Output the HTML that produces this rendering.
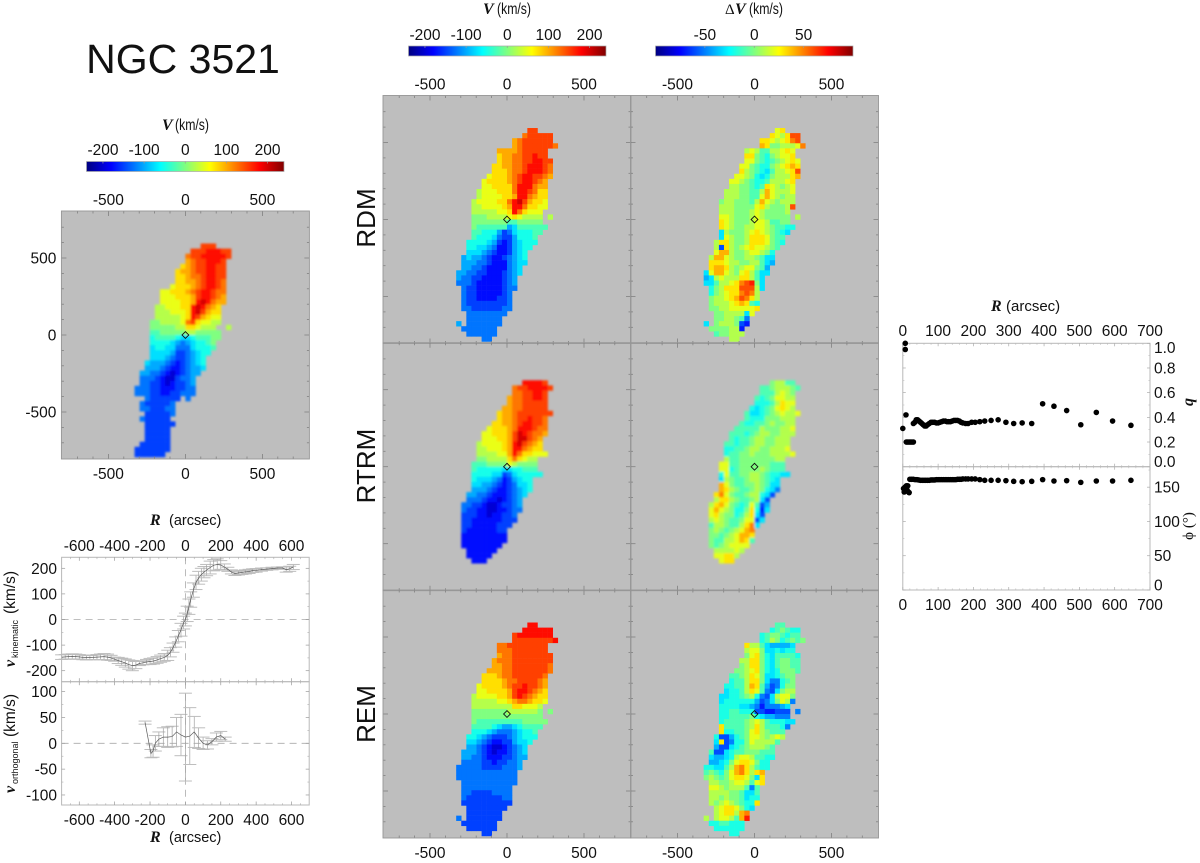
<!DOCTYPE html>
<html lang="en">
<head>
<meta charset="utf-8">
<title>NGC 3521 kinematics</title>
<style>
html,body{margin:0;padding:0;background:#fff;}
svg{display:block;}
text{font-family:"Liberation Sans",sans-serif;fill:#111;}
.num{font-size:15.5px;}
.ser{font-family:"Liberation Serif",serif;font-weight:bold;font-style:italic;}
</style>
</head>
<body>
<svg id="fig" xmlns="http://www.w3.org/2000/svg" width="1200" height="863" viewBox="0 0 1200 863">
<defs>
<filter id="soft" x="-10%" y="-10%" width="120%" height="120%"><feGaussianBlur stdDeviation="1.1"/></filter>
<linearGradient id="jet">
<stop offset="0" stop-color="#000080"/><stop offset="0.125" stop-color="#0000ff"/><stop offset="0.375" stop-color="#00ffff"/><stop offset="0.625" stop-color="#ffff00"/><stop offset="0.875" stop-color="#ff0000"/><stop offset="1" stop-color="#800000"/>
</linearGradient>
</defs>
<text x="183" y="73" text-anchor="middle" style="font-size:41px">NGC 3521</text>
<text transform="translate(375,218) rotate(-90)" text-anchor="middle" style="font-size:26px">RDM</text>
<text transform="translate(375,466) rotate(-90)" text-anchor="middle" style="font-size:26px">RTRM</text>
<text transform="translate(375,714) rotate(-90)" text-anchor="middle" style="font-size:26px">REM</text>

<g><text class="ser" x="162" y="130" style="font-size:16px">V</text><text x="175" y="130" textLength="34" lengthAdjust="spacingAndGlyphs" style="font-size:16px">(km/s)</text></g>
<g><text class="ser" x="483" y="14" style="font-size:16px">V</text><text x="497" y="14" textLength="34" lengthAdjust="spacingAndGlyphs" style="font-size:16px">(km/s)</text></g>
<g><text x="725" y="14" style="font-family:'Liberation Serif',serif;font-size:15px">Δ</text><text class="ser" x="735" y="14" style="font-size:16px">V</text><text x="749" y="14" textLength="34" lengthAdjust="spacingAndGlyphs" style="font-size:16px">(km/s)</text></g>

<g><text class="ser" x="150" y="525" style="font-size:16px">R</text><text x="169" y="525" style="font-size:14.5px">(arcsec)</text></g>
<g><text class="ser" x="150" y="842" style="font-size:16px">R</text><text x="169" y="842" style="font-size:14.5px">(arcsec)</text></g>
<g transform="translate(15,667) rotate(-90)"><text class="ser" x="0" y="0" style="font-size:16px">v</text><text x="9" y="3" style="font-size:9px">kinematic</text><text x="53" y="0" style="font-size:15.5px">(km/s)</text></g>
<g transform="translate(15,793) rotate(-90)"><text class="ser" x="0" y="0" style="font-size:16px">v</text><text x="9" y="3" style="font-size:9px">orthogonal</text><text x="56" y="0" style="font-size:15.5px">(km/s)</text></g>
<g><text class="ser" x="991" y="311" style="font-size:16px">R</text><text x="1006" y="311" style="font-size:15px">(arcsec)</text></g>
<text class="ser" transform="translate(1193,402) rotate(-90)" text-anchor="middle" style="font-size:16px">q</text>
<text transform="translate(1193,526) rotate(-90)" text-anchor="middle" style="font-size:15px;font-family:'Liberation Serif','DejaVu Serif',serif">ϕ (°)</text>
</svg>

<script>
const panelTicks = [-500, 0, 500];
const minorTicks = [-700, -600, -400, -300, -200, -100, 100, 200, 300, 400, 600, 700];
const velocityBarTicks = [-200, -100, 0, 100, 200];
const residualBarTicks = [-50, 0, 50];
const curveXTicks = [-600, -400, -200, 0, 200, 400, 600];
const curveXMinor = [-650, -550, -500, -450, -350, -300, -250, -150, -100, -50, 50, 100, 150, 250, 300, 350, 450, 500, 550, 650];
const kinematicTicks = [-200, -100, 0, 100, 200];
const kinematicMinor = [-150, -50, 50, 150];
const orthogonalTicks = [-100, -50, 0, 50, 100];
const orthogonalMinor = [-75, -25, 25, 75];
const ellipseXTicks = [0, 100, 200, 300, 400, 500, 600, 700];
const ellipseXMinor = [20, 40, 60, 80, 120, 140, 160, 180, 220, 240, 260, 280, 320, 340, 360, 380, 420, 440, 460, 480, 520, 540, 560, 580, 620, 640, 660, 680];
const qTicks = [0, 0.2, 0.4, 0.6, 0.8, 1];
const qTickLabels = ['0.0', '0.2', '0.4', '0.6', '0.8', '1.0'];
const qMinor = [0.1, 0.3, 0.5, 0.7, 0.9];
const phiTicks = [0, 50, 100, 150];
const phiMinor = [25, 75, 125, 175];

const velocityUnit = 25;
const velocityMax = 240;
const residualUnit = 10;
const residualMax = 100;
const cellArcsec = 33;
const _ = null;

/* map rows run top to bottom; each row = [first column, cell levels...] */
const observedV = [
[3,6,6,6],[1,6,6,6,7,7,7,6,6],[0,5,6,6,7,7,7,7,7,6],[0,4,5,6,6,7,7,7,6],[-1,3,4,5,6,6,7,7,6,6],
[-2,3,4,4,5,6,6,7,7,6,6],[-2,3,3,4,5,5,6,7,7,6,6],[-2,3,3,4,4,5,6,7,7,6,5],[-3,2,3,3,3,4,5,6,7,7,6,5],
[-5,2,2,3,3,3,4,5,6,7,7,6,5,5],[-5,2,2,2,3,3,3,4,6,7,7,6,5,4],[-5,2,2,2,2,3,3,4,7,8,7,5,4,4],
[-6,1,1,2,2,2,3,3,7,8,7,5,4,3],[-6,1,1,1,2,2,2,3,7,8,6,4,3,3],[-6,1,1,1,1,1,2,3,7,6,4,3,2,2],
[-7,0,0,1,1,1,1,2,5,6,3,2,2,1,1],[-7,0,0,0,0,0,1,1,3,3,2,1,1,1,_,_,1],[-7,-1,-1,0,0,0,0,0,1,1,0,0,0,0,0],
[-7,-2,-1,-1,-1,-1,-2,-3,-3,-2,-1,-1,-1,0,0],[-7,-2,-2,-2,-2,-3,-4,-5,-4,-3,-2,-2,-1,0],
[-7,-3,-2,-2,-3,-3,-5,-5,-5,-3,-2,-2,-2,-1],[-7,-3,-3,-3,-3,-4,-6,-6,-5,-4,-3,-2,-2],
[-7,-3,-3,-3,-4,-5,-6,-6,-5,-4,-3,-2],[-8,-3,-4,-4,-4,-5,-6,-7,-6,-5,-4,-3,-2],
[-8,-4,-4,-4,-5,-6,-7,-7,-6,-5,-4,-4,-3],[-9,-4,-4,-5,-5,-6,-7,-8,-7,-6,-5,-4,-4],
[-9,-5,-5,-5,-6,-7,-8,-8,-6,-5,-5,-4],[-9,-5,-5,-6,-6,-7,-8,-7,-6,-6,-5,-4],
[-10,-5,-5,-5,-6,-6,-7,-7,-7,-6,-6,-5,-5],[-10,-5,-5,-5,-6,-6,-7,-7,-6,-6,-5,-5,-5],
[-8,-5,-6,-6,-6,-6,-6,-6,_,-5],[-9,-5,-6,-6,-6,-6,-6,-5],[-9,-5,-5,-6,-6,-6,-5,-5],[-8,-6,-6,-6,-6,-6,-5],
[-9,-5,-6,-6,-6,-6,-6],[-8,-6,-6,-6,-6,-6,-6],[-8,-6,-6,-6,-6,-6],[-8,-6,-6,-6,-6,-6],[-8,-6,-6,-6,-6,-6],
[-9,-6,-6,-6,-6,-6,-6],[-10,-6,-6,-6,-6,-6,-6,-6],[-10,-6,-6,-6,-6,-6,-6]
];

const rdmV = [
[4,6,6],[3,5,6,6,6,6,6],[1,4,5,6,6,6,6,6,6],[1,4,5,6,6,6,6,6,6,5],[-2,4,4,4,4,5,6,6,6,6,6],
[-2,3,4,4,5,5,6,6,7,6,6],[-2,3,4,4,5,5,6,6,7,7,6,6],[-3,3,3,4,4,5,5,6,7,7,7,6,5],[-3,3,3,3,4,5,5,6,7,7,7,6,5],
[-4,2,3,3,3,4,5,6,7,7,6,6,5,4],[-5,2,3,3,3,3,4,5,6,7,7,6,5,4],[-5,2,2,3,3,3,3,5,7,7,7,5,4,4],
[-6,1,2,2,2,3,3,3,5,7,7,6,5,3,3],[-6,1,2,2,2,2,3,3,4,7,7,5,4,3,3],[-7,1,2,2,2,2,3,3,5,7,8,6,4,3,3,2],
[-7,1,1,2,2,2,2,3,4,7,7,5,3,3,2,2],[-7,1,1,1,1,1,2,2,3,7,5,3,2,2,2],[-7,0,0,0,1,1,1,1,2,3,2,1,1,1,1,_,1],
[-7,0,0,0,0,0,0,0,-1,-1,0,0,0,0,0],[-7,0,-1,-1,-1,-1,-1,-1,-4,-3,-1,-1,-1,-1,-1,-1],
[-7,-1,-1,-2,-2,-2,-4,-6,-5,-3,-2,-2,-2,-1,-1],[-7,-1,-2,-2,-2,-3,-5,-6,-6,-4,-2,-2,-2,-1],
[-8,-2,-2,-2,-2,-3,-4,-6,-7,-6,-4,-3,-2,-2,-2],[-8,-2,-2,-3,-3,-4,-5,-7,-7,-6,-4,-3,-2,-2],
[-8,-3,-3,-3,-4,-5,-6,-7,-7,-6,-4,-3,-2],[-9,-4,-3,-4,-4,-5,-6,-7,-7,-6,-5,-4,-3,-2],
[-9,-4,-4,-4,-5,-5,-6,-7,-7,-7,-5,-4,-3,-3],[-9,-4,-4,-5,-5,-6,-7,-7,-7,-7,-5,-4,-3],
[-10,-4,-4,-5,-5,-6,-6,-7,-7,-7,-6,-5,-4,-3],[-10,-4,-5,-5,-6,-6,-7,-7,-7,-7,-6,-5,-4],
[-10,-5,-5,-5,-6,-7,-7,-7,-7,-7,-6,-5,-4],[-9,-5,-6,-6,-7,-7,-7,-7,-7,-6,-5,-5],
[-9,-5,-6,-6,-7,-7,-7,-7,-7,-6,-5],[-9,-5,-6,-6,-7,-7,-7,-7,-6,-6,-5],[-9,-5,-6,-6,-6,-6,-6,-6,-6,-6,-5],
[-9,-5,-5,-6,-6,-6,-6,-6,-6,-5,-5],[-8,-5,-5,-5,-5,-5,-5,-5,-5],[-8,-5,-5,-5,-5,-5,-5,-5],
[-10,-4,_,-5,-5,-5,-5,-5,-5,-5],[-9,-5,-5,-5,-5,-5,-5,-5],[-8,-5,-5,-5,-5,-5,-5],[-5,-5,-5]
];

const rdmDV = [
[4,2,3],[3,3,2,1,3,6,6],[1,3,3,2,1,2,3,5,6],[1,4,3,0,0,1,1,1,2,5],[-2,1,2,1,-1,-1,1,1,2,3,2],
[-2,3,3,0,-1,-2,0,1,2,2,3],[-2,2,2,0,-1,-2,-1,0,1,2,3,2],[-3,2,2,0,-1,-2,-2,0,1,2,3,4,3],[-3,3,1,0,-1,-2,-3,-1,1,1,2,3,6],
[-4,2,2,1,0,-2,-3,-2,0,1,1,1,3,4],[-5,2,2,1,0,-1,-2,-2,-1,1,1,1,2,3],[-5,1,1,0,0,-1,-2,-1,3,2,1,0,1,2],
[-6,1,1,1,0,0,-1,-1,1,4,2,1,1,1,2],[-6,1,1,1,0,0,-1,-1,2,4,2,1,0,1,1],[-7,0,1,1,0,0,0,-1,1,4,2,1,0,1,1,1],
[-7,1,1,1,0,0,0,0,2,3,1,0,0,0,1,6],[-7,1,1,1,0,0,0,1,2,1,0,0,0,0,1],[-7,2,2,1,0,0,0,1,2,1,0,0,0,0,0,_,1],
[-7,3,2,1,0,0,0,1,2,2,1,-1,-1,0,0],[-7,3,2,1,0,0,1,1,2,2,1,0,-1,-1,-2,-2],
[-7,-3,1,0,0,0,1,2,3,2,1,0,-1,-2,-3],[-7,-3,2,1,0,0,1,3,3,3,2,0,-1,-1],
[-8,1,3,3,1,0,0,1,3,3,3,2,0,-1,-2],[-8,1,-6,3,1,0,1,2,3,2,2,1,0,-1],
[-8,2,4,4,1,0,0,1,2,2,1,0,-2],[-9,1,4,4,2,1,0,0,1,1,0,-1,-3,-3],
[-9,3,3,3,2,1,1,0,0,1,1,-1,-3,-4],[-9,3,4,4,3,1,0,1,2,2,0,-1,-4],
[-10,-3,2,4,4,2,1,0,2,3,1,-1,-3,-3],[-10,-4,-3,1,2,1,1,1,3,3,1,-1,-3],
[-10,-3,-3,-1,1,1,2,3,5,6,7,0,-3],[-9,-2,0,1,3,3,3,6,6,6,1,-3],
[-9,-2,0,1,2,3,3,5,6,5,1],[-9,0,1,1,2,3,4,6,5,3,1],[-9,0,1,1,1,2,3,4,3,-1,-2],
[-9,0,0,1,1,2,2,2,2,2,3],[-8,0,0,1,1,1,1,-3,2],[-8,0,0,1,1,0,-1,-5],
[-10,-3,_,0,1,1,1,0,-6,-7],[-9,0,0,0,0,1,1,-7],[-8,-1,0,0,1,1,1],[-5,1,1]
];

const rtrmV = [
[3,7,7,7,7,6],[1,5,6,6,7,7,7,7,6],[1,5,5,6,6,7,7,6],[0,4,5,5,6,6,7,7,6],[0,4,5,5,6,6,6,6,6],
[-1,4,4,5,5,6,6,6,6,6],[-2,3,4,4,5,6,6,6,6,6,6,6],[-2,3,4,4,5,6,6,7,6,6,5],[-3,3,3,4,4,5,6,7,7,6,6,5],
[-4,2,3,3,3,4,5,7,7,7,6,5,5],[-5,2,2,3,3,3,4,6,8,7,6,5,5,4],[-5,2,2,2,3,3,4,6,8,8,6,5,4],
[-6,1,2,2,2,2,3,4,7,8,6,5,4,3],[-6,1,1,2,2,2,3,4,7,7,5,4,3,3],[-6,1,1,1,1,2,2,4,7,5,3,3,2,2,2],
[-6,0,0,1,1,1,1,3,5,3,2,1,1],[-7,-1,-1,-1,0,0,0,0,2,1,0,0,0,0],[-7,-1,-2,-2,-2,-2,-2,-3,-3,-2,-2,-1,-1,-1],
[-7,-2,-2,-2,-2,-3,-3,-6,-5,-3,-2,-2,-2,-2,-2],[-7,-2,-3,-3,-3,-4,-5,-7,-6,-4,-3,-2,-2],
[-7,-3,-3,-4,-4,-5,-6,-7,-6,-5,-3,-3,-2],[-7,-4,-4,-4,-5,-6,-7,-7,-6,-5,-4,-3,-2],
[-8,-4,-4,-5,-5,-6,-7,-7,-7,-6,-5,-4,-3],[-8,-5,-5,-5,-6,-7,-7,-8,-7,-6,-5,-4],
[-9,-5,-5,-6,-6,-7,-8,-8,-7,-6,-6,-5,-4],[-9,-5,-6,-6,-7,-7,-8,-8,-7,-7,-6,-5,-5],
[-9,-6,-6,-6,-7,-7,-8,-7,-7,-6,-6,-5],[-9,-6,-6,-7,-7,-7,-7,-7,-7,-6,-6,-6],
[-9,-6,-6,-7,-7,-7,-7,-7,-6,-6,-6],[-9,-6,-7,-7,-7,-7,-7,-7,-6,-6],
[-9,-7,-7,-7,-7,-7,-7,-7,-7,-7],[-9,-7,-7,-7,-7,-7,-7,-7,-7,-7],[-9,-7,-7,-7,-7,-7,-7,-7,-7],
[-8,-7,-7,-7,-7,-7,-7],[-8,-7,-7,-7,-7,-7],[-7,-7,-7,-7]
];

const rtrmDV = [
[3,0,1,1,-1,-1],[1,-1,-1,0,1,1,1,0,-1],[1,-1,-1,-1,1,2,1,0],[0,-1,-2,-1,0,2,2,1,1],[0,-2,-2,-2,-1,1,3,2,2],
[-1,-2,-3,-2,-1,0,2,3,2,1],[-2,-1,-3,-3,-2,-1,0,1,2,1,1,2],[-2,-1,-2,-2,-2,0,0,0,1,1,1],[-3,-1,-2,-2,-1,-1,0,1,0,0,1,1],
[-4,-1,-1,-1,-1,-1,1,0,0,0,1,1,2],[-5,-1,-1,-1,-2,-1,0,1,1,0,0,1,1,1],[-5,-1,-2,-1,-1,0,1,1,0,0,1,1,1],
[-6,-1,-1,-2,-1,-1,0,1,1,0,0,1,1,1],[-6,-2,-2,-1,-1,0,1,1,0,0,1,1,1,2],[-6,-2,-1,-1,0,0,1,0,0,0,1,1,1,1,2],
[-6,1,-1,-1,0,0,0,0,0,0,0,1,1],[-7,2,2,-1,-1,0,0,0,0,0,0,-1,-1,-1],[-7,2,2,-2,-1,0,0,0,0,1,0,-1,-1,-1],
[-7,-2,2,-1,-1,0,0,1,1,0,-1,-2,-2,-3,-3],[-7,-3,1,0,-1,-1,0,1,1,0,-1,-2,-3],
[-7,4,2,0,-1,-1,0,0,1,0,-1,-3,-3],[-7,4,3,1,0,-1,-1,0,1,0,-2,-3,-5],
[-8,3,5,2,0,-1,-1,0,1,1,-2,-3,-6],[-8,1,3,3,1,0,-1,-1,0,1,-3,-6],
[-9,1,3,4,2,0,-1,-2,-1,2,-1,-6,-4],[-9,2,4,2,1,0,-2,-2,0,3,-2,-7,-3],
[-9,2,3,1,0,0,-2,-1,1,3,-3,-6],[-9,1,2,1,0,-1,-1,0,2,2,-6,-3],
[-9,-1,1,1,0,-1,-1,1,3,5,-3],[-9,0,1,0,-1,0,1,2,4,5],[-9,0,0,-1,0,1,2,4,4,3],[-9,0,-1,-1,1,1,2,4,3,-1],
[-9,0,-1,0,1,2,2,2,2],[-8,1,1,1,1,2,1],[-8,2,2,3,3,1],[-7,2,3,3]
];

const remV = [
[4,7,7],[3,7,7,7,7,7,7],[1,6,7,7,7,7,7,7,7],[1,6,6,6,6,6,6,6,6,7],[-2,5,5,6,6,6,6,6,6,6,6],
[-2,5,5,5,6,6,6,6,6,6,6],[-2,4,5,5,6,6,6,6,6,6,6,6],[-3,4,5,5,5,6,6,6,6,6,6,6,6],[-3,4,4,5,5,6,6,6,6,6,6,6,5],
[-4,4,4,4,5,5,6,6,6,6,6,6,6,5],[-5,3,3,3,4,5,5,6,6,6,6,6,6,5],[-5,3,3,3,3,4,5,5,6,6,6,6,5,4],
[-6,2,3,3,3,3,4,5,6,6,7,6,6,5,4],[-6,2,2,3,3,3,3,4,6,7,7,6,5,4,3],[-7,1,2,2,2,2,3,3,4,6,7,6,5,4,3,3],
[-7,1,1,1,1,1,2,2,3,4,5,5,4,3,3,2],[-7,1,1,1,1,1,1,1,1,3,3,2,2,2,1],[-7,0,0,0,0,0,0,0,1,1,1,1,1,1,0,_,0],
[-7,0,0,0,0,0,0,0,0,0,0,0,0,0,0],[-7,0,-1,-1,-1,-1,-1,-1,-1,-1,-1,0,0,0,0,0],
[-7,-1,-1,-1,-1,-2,-3,-4,-4,-3,-2,-1,-1,-1,-1],[-7,-2,-2,-2,-3,-4,-5,-5,-5,-4,-3,-2,-2,-1],
[-8,-2,-2,-3,-4,-5,-6,-6,-6,-5,-4,-3,-2,-2,-2],[-8,-3,-3,-4,-5,-6,-7,-7,-6,-6,-4,-3,-3,-2],
[-8,-4,-4,-5,-6,-7,-8,-8,-7,-6,-5,-4,-3],[-9,-4,-4,-4,-5,-6,-7,-8,-7,-7,-6,-5,-4,-3],
[-9,-4,-4,-5,-5,-6,-7,-7,-7,-6,-6,-5,-4,-4],[-9,-5,-5,-5,-5,-6,-6,-7,-6,-6,-5,-5,-4],
[-10,-5,-5,-5,-5,-5,-6,-6,-6,-6,-5,-5,-5,-4],[-10,-5,-5,-5,-5,-5,-5,-5,-5,-5,-5,-5,-5],
[-10,-5,-5,-5,-5,-5,-5,-5,-5,-5,-5,-5,-5],[-9,-5,-5,-5,-5,-5,-5,-5,-5,-5,-5,-5],
[-9,-5,-5,-5,-5,-5,-5,-5,-5,-5,-5],[-9,-5,-5,-6,-6,-6,-6,-5,-5,-5,-5],[-9,-5,-6,-6,-6,-6,-6,-6,-6,-5,-5],
[-9,-6,-6,-6,-6,-6,-6,-6,-6,-6,-6],[-8,-6,-6,-6,-6,-6,-6,-6,-6],[-8,-6,-6,-6,-6,-6,-6,-6],
[-10,-5,_,-6,-6,-6,-6,-6,-6,-6],[-9,-6,-6,-6,-6,-6,-6,-6],[-8,-6,-6,-6,-6,-6,-6],[-5,-6,-6]
];

const remDV = [
[4,-1,-1],[3,-2,-1,0,-1,-2,-2],[1,-2,-1,0,0,-1,-2,-1,-1],[1,-2,-1,1,0,-2,-1,0,-1,0],[-2,3,1,1,-1,-3,-4,-4,-4,-4,-3],
[-2,1,2,2,0,-3,-3,-2,-3,-2,-2],[-2,0,2,3,0,-2,-3,-1,-1,-1,-1,-2],[-3,1,1,3,3,0,-2,-3,-1,0,0,-1,-1],[-3,0,1,3,3,0,-2,-3,-1,0,0,-1,-1],
[-4,0,0,1,2,3,0,-2,-3,-2,0,0,0,-1],[-5,-1,-1,0,1,3,2,0,-3,-3,-2,-1,0,0],[-5,-2,-1,-1,1,3,3,0,-3,-5,-5,-2,-1,0],
[-6,-2,-2,-1,-1,1,4,3,-1,-4,-6,-5,-2,0,0],[-6,-3,-2,-2,-1,1,3,2,-1,-5,-6,-3,0,1,1],[-7,-3,-3,-2,-2,-1,0,1,-2,-5,-6,-3,1,2,2,0],
[-7,-3,-2,-2,-2,-2,-2,-2,-4,-6,-5,-3,0,2,1,-5],[-7,-2,-2,-2,-2,-3,-3,-4,-5,-7,-5,-5,-5,-4,-3],[-7,-2,-2,-1,-1,-2,-2,-2,-6,-6,-7,-7,-6,-6,-6,_,-5],
[-7,-2,-2,-1,-1,-1,-1,0,-2,-3,-4,-4,-5,-5,-5],[-7,-2,-1,-1,-1,-1,0,1,2,1,-1,-2,-2,-2,-3,-3],
[-7,3,-1,-1,-1,-1,0,1,3,1,-1,-1,-1,-2,-5],[-7,3,-2,-2,-1,-1,0,2,3,1,0,-1,-1,-1],
[-8,-2,-6,-6,-4,-2,-1,0,2,2,1,0,1,2,1],[-8,-3,3,-6,-5,-2,-2,0,2,1,1,1,1,-1],
[-8,-4,-6,-6,-3,-2,-1,0,1,1,1,0,-1],[-9,-1,-6,-6,-3,-2,-1,-1,0,0,0,-1,-1,-1],
[-9,-3,-4,-4,-3,-2,1,2,2,1,-1,-1,-2,-2],[-9,-4,-4,-3,-2,0,2,3,3,2,0,-2,-2],
[-10,-2,-2,-3,-3,-1,1,4,5,3,1,-1,-2,-2],[-10,-1,0,-1,-2,0,2,4,5,3,1,3,4],
[-10,0,1,0,-1,0,2,3,3,2,0,-3,3],[-9,1,1,0,0,1,2,2,1,-1,2,3],
[-9,2,2,1,0,1,1,1,-1,-5,-1],[-9,1,1,1,1,0,0,-1,-3,-3,-1],[-9,1,1,0,1,0,0,-1,-3,-2,-2],
[-9,1,0,1,2,1,0,-1,-2,-2,3],[-8,1,2,3,3,2,0,-2,-3],[-8,1,2,3,3,1,4,5],
[-10,1,_,1,2,2,1,-1,4,7],[-9,-2,-2,-1,-1,-2,-2,-2],[-8,-2,-2,-2,-2,-2,-2],[-5,-2,-2]
];

const curveRadius = [-700,-680,-660,-640,-620,-600,-580,-560,-540,-520,-500,-480,-460,-440,-420,-400,-380,-360,-340,-320,-300,-280,-260,-240,-220,-200,-180,-160,-140,-120,-100,-85,-70,-55,-40,-25,-10,0,10,20,30,45,60,75,90,105,120,140,160,180,200,220,240,260,280,300,320,340,360,380,400,430,460,490,520,550,570,590,610];
const kinematicV = [-147,-146,-145,-144,-145,-146,-148,-149,-149,-148,-147,-146,-145,-147,-150,-155,-160,-165,-170,-176,-180,-178,-172,-169,-166,-164,-162,-158,-153,-148,-140,-128,-110,-88,-65,-40,-12,0,22,50,78,115,145,163,175,185,193,203,212,215,213,205,196,186,180,182,184,186,188,191,192,195,197,199,201,201,195,198,205];
const kinematicErr = [9,9,10,10,10,9,9,9,8,9,10,11,12,12,10,8,12,14,16,18,20,14,8,8,10,12,12,13,14,15,20,18,18,20,22,25,25,25,30,30,30,28,28,25,25,22,22,25,22,22,17,12,8,8,8,8,8,8,8,7,7,6,5,5,4,5,10,10,10];
const orthRadius = [-228,-195,-183,-170,-150,-125,-100,-75,-50,-25,0,25,50,75,100,125,150,175,200,225];
const orthV = [40,-20,-15,0,8,12,12,13,22,16,12,14,22,10,0,-3,3,12,15,8];
const orthErr = [3,8,12,15,14,18,20,20,28,40,85,55,30,20,12,8,6,8,8,4];

const qRadius = [0,7,7,9,10,14,18,22,26,30,30,34,38,42,46,50,54,58,62,66,70,75,80,85,90,95,100,105,110,115,120,125,130,135,140,145,150,155,160,165,170,178,185,195,205,218,232,250,270,292,314,338,365,396,428,464,504,548,594,646];
const qValues = [0.31,1,0.95,0.42,0.2,0.2,0.2,0.2,0.2,0.2,0.35,0.36,0.38,0.38,0.37,0.36,0.35,0.34,0.33,0.33,0.34,0.35,0.36,0.36,0.36,0.355,0.355,0.36,0.365,0.37,0.37,0.365,0.365,0.365,0.37,0.375,0.375,0.375,0.37,0.36,0.355,0.35,0.35,0.36,0.36,0.365,0.37,0.375,0.38,0.36,0.35,0.355,0.35,0.51,0.49,0.455,0.34,0.44,0.37,0.335];
const phiRadius = [2,4,6,8,10,12,14,16,18,20,25,30,35,40,45,50,55,60,65,70,75,80,85,90,95,100,105,110,115,120,125,130,135,140,145,150,155,160,165,170,178,185,195,205,218,232,250,270,292,314,338,365,396,428,464,504,548,594,646];
const phiValues = [148,143,150,145,152,146,152,143,142,161.5,161.5,161.5,161,161,160.5,160,160,160,160,160,160,160.5,160.5,160.5,161,161,161,161,161,161,161,161,161,161,161,161,161.5,161.5,161.5,162,162,162,162,162,161,160,160,160,159.5,158.5,158,158.5,161,159,159.5,157,159,159,160];

const NS = 'http://www.w3.org/2000/svg';
const fig = document.getElementById('fig');
const pxPerArcsec = 0.154;
const gridColor = '#808080';
const frameColor = '#969696';

function mk(parent, tag, name, interact) {
  const el = document.createElementNS(NS, tag);
  
  
  parent.appendChild(el);
  return el;
}
function line(parent, name, x1, y1, x2, y2, stroke, w, dash) {
  const el = mk(parent, 'line', name, 'false');
  el.setAttribute('x1', x1); el.setAttribute('y1', y1);
  el.setAttribute('x2', x2); el.setAttribute('y2', y2);
  el.setAttribute('stroke', stroke); el.setAttribute('stroke-width', w);
  if (dash) el.setAttribute('stroke-dasharray', dash);
  return el;
}
function label(parent, name, x, y, str, anchor) {
  const el = mk(parent, 'text', name, 'false');
  el.setAttribute('x', x); el.setAttribute('y', y);
  el.setAttribute('text-anchor', anchor);
  el.setAttribute('class', 'num');
  el.textContent = str;
  return el;
}
function jet(t) {
  t = Math.max(0, Math.min(1, t));
  const c = v => Math.round(255 * Math.max(0, Math.min(1, v)));
  return 'rgb(' + c(1.5 - Math.abs(4 * t - 3)) + ',' + c(1.5 - Math.abs(4 * t - 2)) + ',' + c(1.5 - Math.abs(4 * t - 1)) + ')';
}

function drawPanel(name, cx, cy) {
  const half = 800 * pxPerArcsec + 0.8;
  const g = mk(fig, 'g', name + '-panel', 'false');
  const bg = mk(g, 'rect', name + '-background', 'false');
  bg.setAttribute('x', cx - half); bg.setAttribute('y', cy - half);
  bg.setAttribute('width', 2 * half); bg.setAttribute('height', 2 * half);
  bg.setAttribute('fill', '#bebebe');
  return g;
}
function drawMap(g, name, rows, topRow, unit, max, cx, cy, smooth) {
  const cell = cellArcsec * pxPerArcsec;
  const layer = mk(g, 'g', name + '-cells', 'false');
  if (smooth) layer.setAttribute('filter', 'url(#soft)');
  rows.forEach((row, r) => {
    for (let i = 1; i < row.length; i++) {
      if (row[i] === null) continue;
      const col = row[0] + i - 1;
      const rect = mk(layer, 'rect', name + '-cell', 'false');
      rect.setAttribute('x', (cx + col * cell).toFixed(2));
      rect.setAttribute('y', (cy - (topRow - r + 1) * cell).toFixed(2));
      rect.setAttribute('width', (cell + 0.25).toFixed(2));
      rect.setAttribute('height', (cell + 0.25).toFixed(2));
      rect.setAttribute('fill', jet((row[i] * unit + max) / (2 * max)));
    }
  });
}
function drawFrame(g, name, cx, cy, showTop, showBottom, showLeft) {
  const half = 800 * pxPerArcsec + 0.8;
  const l = cx - half, r = cx + half, t = cy - half, b = cy + half;
  const ticks = mk(g, 'g', name + '-ticks', 'false');
  const place = (v, len) => {
    const d = v * pxPerArcsec;
    line(ticks, name + '-x-tick-top', cx + d, t, cx + d, t + len, gridColor, 0.8);
    line(ticks, name + '-x-tick-bottom', cx + d, b, cx + d, b - len, gridColor, 0.8);
    line(ticks, name + '-y-tick-left', l, cy - d, l + len, cy - d, gridColor, 0.8);
    line(ticks, name + '-y-tick-right', r, cy - d, r - len, cy - d, gridColor, 0.8);
  };
  panelTicks.forEach(v => place(v, 5));
  minorTicks.forEach(v => place(v, 2.5));
  const fr = mk(g, 'rect', name + '-frame', 'false');
  fr.setAttribute('x', l); fr.setAttribute('y', t);
  fr.setAttribute('width', r - l); fr.setAttribute('height', b - t);
  fr.setAttribute('fill', 'none'); fr.setAttribute('stroke', frameColor); fr.setAttribute('stroke-width', 0.9);
  const d = mk(g, 'rect', name + '-center-marker', 'false');
  d.setAttribute('x', cx - 2.4); d.setAttribute('y', cy - 2.4);
  d.setAttribute('width', 4.8); d.setAttribute('height', 4.8);
  d.setAttribute('transform', 'rotate(45 ' + cx + ' ' + cy + ')');
  d.setAttribute('fill', 'none'); d.setAttribute('stroke', '#111'); d.setAttribute('stroke-width', 0.9);
  panelTicks.forEach(v => {
    if (showTop) label(g, name + '-top-tick-label', cx + v * pxPerArcsec, t - 6, v, 'middle');
    if (showBottom) label(g, name + '-bottom-tick-label', cx + v * pxPerArcsec, b + 20, v, 'middle');
    if (showLeft) label(g, name + '-left-tick-label', l - 5, cy - v * pxPerArcsec + 5.5, v, 'end');
  });
}
function drawColorbar(name, x, y, w, h, max, ticks, labelY) {
  const g = mk(fig, 'g', name, 'false');
  const rect = mk(g, 'rect', name + '-ramp', 'false');
  rect.setAttribute('x', x); rect.setAttribute('y', y);
  rect.setAttribute('width', w); rect.setAttribute('height', h);
  rect.setAttribute('fill', 'url(#jet)');
  rect.setAttribute('stroke', '#a8a8a8'); rect.setAttribute('stroke-width', 0.7);
  const sx = v => x + (v + max) / (2 * max) * w;
  ticks.forEach(v => {
    line(g, name + '-tick', sx(v), y, sx(v), y + 2, '#999', 0.7);
    label(g, name + '-tick-label', sx(v), labelY, v, 'middle');
  });
}

drawColorbar('left-velocity-colorbar', 86.5, 161.5, 197.5, 10, velocityMax, velocityBarTicks, 155);
drawColorbar('velocity-colorbar', 408.5, 46, 197.5, 10, velocityMax, velocityBarTicks, 40);
drawColorbar('residual-colorbar', 655.5, 46, 197.5, 10, residualMax, residualBarTicks, 40);

const mapPanels = [
  ['observed-velocity', observedV, 17, velocityUnit, velocityMax, 185.4, 335, true, true, true, true],
  ['rdm-velocity', rdmV, 17, velocityUnit, velocityMax, 507, 219.5, false, true, false, false],
  ['rdm-residual', rdmDV, 17, residualUnit, residualMax, 754.5, 219.5, false, true, false, false],
  ['rtrm-velocity', rtrmV, 16, velocityUnit, velocityMax, 507, 466.7, true, false, false, false],
  ['rtrm-residual', rtrmDV, 16, residualUnit, residualMax, 754.5, 466.7, true, false, false, false],
  ['rem-velocity', remV, 17, velocityUnit, velocityMax, 507, 714, false, false, true, false],
  ['rem-residual', remDV, 17, residualUnit, residualMax, 754.5, 714, false, false, true, false]
];
mapPanels.forEach(p => {
  const g = drawPanel(p[0], p[5], p[6]);
  drawMap(g, p[0], p[1], p[2], p[3], p[4], p[5], p[6], p[7]);
});
mapPanels.forEach(p => {
  const g = mk(fig, 'g', p[0] + '-axes', 'false');
  drawFrame(g, p[0], p[5], p[6], p[8], p[9], p[10]);
});

/* rotation curves */
const curveLeft = 61.6, curveRight = 309.2;
const curveX = v => 185.4 + v * (curveRight - curveLeft) / 1400;
const kinY = v => 619.5 - v * 0.256;
const orthY = v => 743.3 - v * 0.5167;
const frameGray = '#b8b8b8';

function drawCurvePlot(name, top, bottom, yFn, ticks, yMinor, radius, vals, errs, xLabelY) {
  const g = mk(fig, 'g', name, 'false');
  line(g, name + '-zero-line', curveLeft, yFn(0), curveRight, yFn(0), '#aaa', 0.8, '7 5');
  line(g, name + '-zero-x-line', curveX(0), top, curveX(0), bottom, '#aaa', 0.8, '7 5');
  radius.forEach((r, i) => {
    const x = curveX(r), y1 = yFn(vals[i] + errs[i]), y2 = yFn(vals[i] - errs[i]);
    line(g, name + '-error-bar', x, y1, x, y2, '#a0a0a0', 0.7);
    line(g, name + '-error-cap', x - 6.5, y1, x + 6.5, y1, '#bdbdbd', 1);
    line(g, name + '-error-cap', x - 6.5, y2, x + 6.5, y2, '#bdbdbd', 1);
  });
  const path = mk(g, 'polyline', name + '-curve', 'false');
  path.setAttribute('points', radius.map((r, i) => curveX(r).toFixed(1) + ',' + yFn(vals[i]).toFixed(1)).join(' '));
  path.setAttribute('fill', 'none'); path.setAttribute('stroke', '#5a5a5a'); path.setAttribute('stroke-width', 0.7);
  const fr = mk(g, 'rect', name + '-frame', 'false');
  fr.setAttribute('x', curveLeft); fr.setAttribute('y', top);
  fr.setAttribute('width', curveRight - curveLeft); fr.setAttribute('height', bottom - top);
  fr.setAttribute('fill', 'none'); fr.setAttribute('stroke', frameGray); fr.setAttribute('stroke-width', 1);
  curveXTicks.forEach(v => {
    line(g, name + '-x-tick-top', curveX(v), top, curveX(v), top + 3.5, '#999', 0.7);
    line(g, name + '-x-tick-bottom', curveX(v), bottom, curveX(v), bottom - 3.5, '#999', 0.7);
    if (xLabelY) label(g, name + '-x-tick-label', curveX(v), xLabelY, v, 'middle');
  });
  curveXMinor.forEach(v => {
    line(g, name + '-x-minor-top', curveX(v), top, curveX(v), top + 1.8, '#aaa', 0.6);
    line(g, name + '-x-minor-bottom', curveX(v), bottom, curveX(v), bottom - 1.8, '#aaa', 0.6);
  });
  ticks.forEach(v => {
    line(g, name + '-y-tick-left', curveLeft, yFn(v), curveLeft + 3.5, yFn(v), '#999', 0.7);
    line(g, name + '-y-tick-right', curveRight, yFn(v), curveRight - 3.5, yFn(v), '#999', 0.7);
    label(g, name + '-y-tick-label', 57, yFn(v) + 5.5, v, 'end');
  });
  yMinor.forEach(v => {
    line(g, name + '-y-minor-left', curveLeft, yFn(v), curveLeft + 1.8, yFn(v), '#aaa', 0.6);
    line(g, name + '-y-minor-right', curveRight, yFn(v), curveRight - 1.8, yFn(v), '#aaa', 0.6);
  });
}
drawCurvePlot('kinematic-velocity-plot', 557.3, 681.7, kinY, kinematicTicks, kinematicMinor, curveRadius, kinematicV, kinematicErr, 551);
drawCurvePlot('orthogonal-velocity-plot', 681.7, 805, orthY, orthogonalTicks, orthogonalMinor, orthRadius, orthV, orthErr, 825);

/* ellipse parameters */
const ellLeft = 902.8, ellRight = 1150;
const ellX = v => ellLeft + v * (ellRight - ellLeft) / 700;
const qY = v => 466.7 - v * 123.4;
const phiY = v => 590 - v * 0.6855;

function drawEllipsePlot(name, top, bottom, yFn, ticks, tickText, yMinor, rVals, yVals, xLabelY) {
  const g = mk(fig, 'g', name, 'false');
  const fr = mk(g, 'rect', name + '-frame', 'false');
  fr.setAttribute('x', ellLeft); fr.setAttribute('y', top);
  fr.setAttribute('width', ellRight - ellLeft); fr.setAttribute('height', bottom - top);
  fr.setAttribute('fill', 'none'); fr.setAttribute('stroke', frameGray); fr.setAttribute('stroke-width', 1);
  ellipseXTicks.forEach(v => {
    line(g, name + '-x-tick-top', ellX(v), top, ellX(v), top + 3, '#aaa', 0.7);
    line(g, name + '-x-tick-bottom', ellX(v), bottom, ellX(v), bottom - 3, '#aaa', 0.7);
    label(g, name + '-x-tick-label', ellX(v), xLabelY, v, 'middle');
  });
  ellipseXMinor.forEach(v => {
    line(g, name + '-x-minor-top', ellX(v), top, ellX(v), top + 1.6, '#bbb', 0.6);
    line(g, name + '-x-minor-bottom', ellX(v), bottom, ellX(v), bottom - 1.6, '#bbb', 0.6);
  });
  ticks.forEach((v, i) => {
    line(g, name + '-y-tick-left', ellLeft, yFn(v), ellLeft + 3, yFn(v), '#aaa', 0.7);
    line(g, name + '-y-tick-right', ellRight, yFn(v), ellRight - 3, yFn(v), '#aaa', 0.7);
    const ly = Math.max(top + 4, Math.min(bottom - 5, yFn(v)));
    label(g, name + '-y-tick-label', 1154, ly + 5.5, tickText[i], 'start');
  });
  yMinor.forEach(v => {
    line(g, name + '-y-minor-left', ellLeft, yFn(v), ellLeft + 1.6, yFn(v), '#bbb', 0.6);
    line(g, name + '-y-minor-right', ellRight, yFn(v), ellRight - 1.6, yFn(v), '#bbb', 0.6);
  });
  rVals.forEach((r, i) => {
    const dot = mk(g, 'circle', name + '-point', 'false');
    dot.setAttribute('cx', ellX(r).toFixed(2));
    dot.setAttribute('cy', Math.max(top, yFn(yVals[i])).toFixed(2));
    dot.setAttribute('r', 2.8);
    dot.setAttribute('fill', '#000');
  });
}
drawEllipsePlot('axis-ratio-plot', 343.3, 466.7, qY, qTicks, qTickLabels, qMinor, qRadius, qValues, 336);
drawEllipsePlot('position-angle-plot', 466.7, 590, phiY, phiTicks, phiTicks, phiMinor, phiRadius, phiValues, 610);
</script>
</body>
</html>
